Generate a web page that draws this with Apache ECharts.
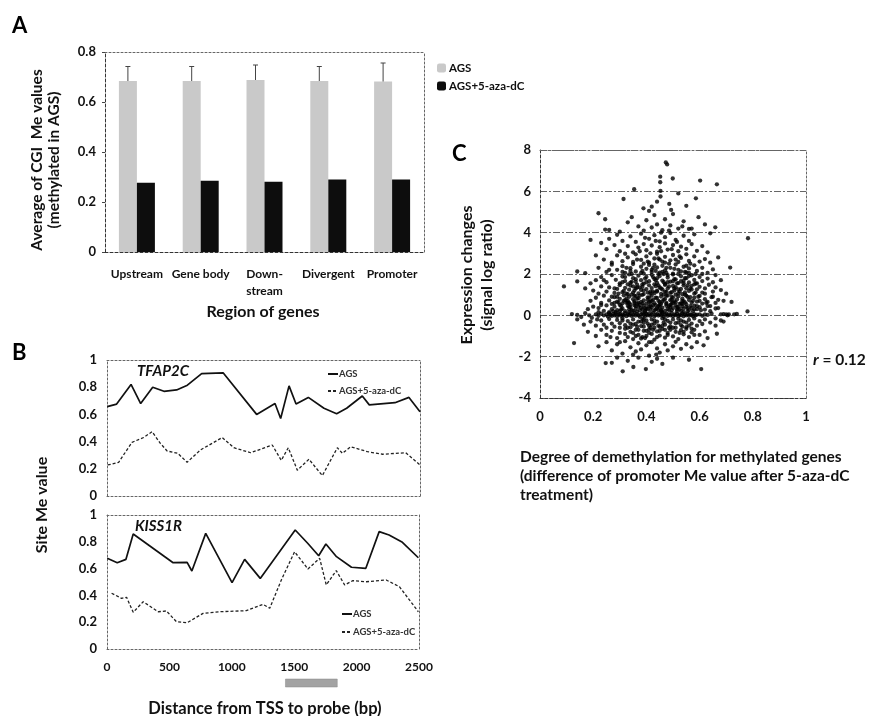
<!DOCTYPE html>
<html><head><meta charset="utf-8">
<script src="https://cdn.jsdelivr.net/npm/echarts@6/dist/echarts.min.js"></script>
<style>html,body{margin:0;padding:0;background:#fff}#c{width:870px;height:716px}</style>
</head><body><div id="c"></div>
<script>
// ---------- Panel A data ----------
const regionCategories = ['Upstream', 'Gene body', 'Down-\nstream', 'Divergent', 'Promoter'];
const agsMeans = [0.684, 0.684, 0.688, 0.684, 0.682];
const agsUpper = [0.742, 0.742, 0.748, 0.742, 0.756];
const azaMeans = [0.277, 0.285, 0.281, 0.29, 0.29];
const barTicks = [0, 0.2, 0.4, 0.6, 0.8];

// ---------- Panel B data: [distance bp, site Me value] ----------
const tfap2cAGS = [[2,0.657],[77,0.676],[192,0.82],[269,0.68],[365,0.80],[455,0.77],[556,0.78],[642,0.815],[756,0.90],[929,0.905],[1195,0.60],[1342,0.68],[1387,0.57],[1454,0.81],[1510,0.676],[1608,0.725],[1733,0.645],[1834,0.605],[1914,0.645],[2039,0.735],[2095,0.67],[2300,0.686],[2412,0.725],[2500,0.62]];
const tfap2cAza = [[6,0.228],[93,0.248],[200,0.395],[293,0.43],[360,0.473],[426,0.387],[480,0.331],[565,0.314],[640,0.248],[746,0.338],[920,0.43],[1013,0.355],[1147,0.318],[1320,0.375],[1392,0.262],[1448,0.355],[1520,0.19],[1613,0.27],[1720,0.15],[1840,0.355],[1880,0.314],[1946,0.362],[2080,0.326],[2200,0.307],[2386,0.318],[2500,0.228]];
const kiss1rAGS = [[2,0.677],[82,0.644],[152,0.669],[210,0.858],[530,0.644],[642,0.647],[680,0.582],[791,0.863],[1002,0.495],[1103,0.669],[1228,0.527],[1508,0.888],[1608,0.789],[1696,0.696],[1754,0.784],[1839,0.689],[1959,0.61],[2074,0.602],[2181,0.876],[2260,0.851],[2367,0.796],[2495,0.681]];
const kiss1rAza = [[37,0.416],[117,0.378],[157,0.386],[210,0.274],[290,0.353],[410,0.278],[476,0.284],[556,0.204],[642,0.196],[770,0.266],[903,0.278],[1116,0.286],[1250,0.333],[1304,0.304],[1397,0.515],[1503,0.726],[1610,0.597],[1704,0.677],[1757,0.478],[1837,0.585],[1904,0.478],[1970,0.51],[2077,0.502],[2237,0.515],[2343,0.465],[2495,0.278]];
const probeRegion = [[1430, 1845]];
const distanceTicks = [0, 500, 1000, 1500, 2000, 2500];

// ---------- Panel C data: [degree of demethylation, expression change] ----------
const scatterPoints = [
[0.21,0.05],[0.22,-0.02],[0.23,0.08],[0.24,0.0],[0.25,0.04],[0.255,-0.06],[0.26,0.1],[0.265,0.02],[0.27,-0.03],[0.275,0.06],[0.28,0.0],[0.285,0.09],[0.29,-0.05],[0.295,0.03],[0.30,0.07],[0.305,-0.02],[0.31,0.04],[0.315,0.0],[0.32,0.1],[0.325,-0.04],[0.33,0.05],[0.335,0.01],[0.34,0.08],[0.345,-0.03],[0.35,0.03],[0.355,0.12],[0.36,-0.01],[0.365,0.06],[0.37,0.0],[0.375,-0.07],[0.38,0.04],[0.385,0.1],[0.39,0.02],[0.395,-0.04],[0.40,0.06],[0.405,0.0],[0.41,0.09],[0.415,-0.02],[0.42,0.04],[0.425,0.13],[0.43,-0.05],[0.435,0.02],[0.44,0.07],[0.445,-0.01],[0.45,0.05],[0.455,0.0],[0.46,0.1],[0.465,-0.06],[0.47,0.03],[0.475,0.08],[0.48,-0.02],[0.485,0.04],[0.49,0.0],[0.495,0.11],[0.50,-0.04],[0.505,0.05],[0.51,0.01],[0.515,0.08],[0.52,-0.03],[0.525,0.03],[0.53,0.0],[0.535,0.09],[0.54,-0.05],[0.545,0.04],[0.55,0.0],[0.555,0.07],[0.56,-0.02],[0.565,0.05],[0.57,0.02],[0.575,-0.04],[0.58,0.06],[0.585,0.0],[0.59,0.03],[0.60,0.05],[0.61,-0.02],[0.62,0.04],
[0.12,0.06],[0.14,0.02],[0.155,-0.08],[0.17,0.1],[0.185,0.0],[0.195,-0.12],[0.63,0.02],[0.645,0.08],[0.68,0.05],[0.69,0.06],[0.70,0.05],[0.71,0.04],[0.78,0.19],
[0.22,0.35],[0.24,0.22],[0.25,0.48],[0.27,0.3],[0.28,0.42],[0.29,0.25],[0.30,0.5],[0.31,0.33],[0.32,0.2],[0.33,0.45],[0.335,0.28],[0.34,0.38],[0.35,0.22],[0.355,0.48],[0.36,0.31],[0.37,0.41],[0.375,0.24],[0.38,0.36],[0.39,0.47],[0.395,0.21],[0.40,0.33],[0.41,0.44],[0.415,0.27],[0.42,0.38],[0.43,0.23],[0.435,0.49],[0.44,0.34],[0.45,0.42],[0.455,0.26],[0.46,0.37],[0.47,0.22],[0.475,0.46],[0.48,0.31],[0.49,0.4],[0.495,0.25],[0.50,0.35],[0.51,0.48],[0.515,0.29],[0.52,0.39],[0.53,0.22],[0.535,0.44],[0.54,0.32],[0.55,0.41],[0.56,0.26],[0.57,0.36],[0.58,0.47],[0.59,0.3],[0.60,0.39],[0.62,0.28],[0.64,0.45],[0.66,0.33],[0.20,0.42],[0.18,0.3],
[0.19,0.7],[0.21,0.85],[0.23,0.6],[0.24,0.95],[0.26,0.72],[0.27,0.55],[0.28,0.88],[0.29,0.66],[0.30,0.8],[0.31,0.58],[0.315,0.97],[0.32,0.74],[0.33,0.62],[0.335,0.9],[0.34,0.53],[0.35,0.78],[0.355,0.68],[0.36,0.93],[0.365,0.57],[0.37,0.83],[0.38,0.65],[0.385,0.99],[0.39,0.72],[0.40,0.56],[0.405,0.87],[0.41,0.64],[0.42,0.95],[0.425,0.76],[0.43,0.59],[0.44,0.84],[0.445,0.7],[0.45,0.52],[0.455,0.91],[0.46,0.67],[0.47,0.79],[0.475,0.6],[0.48,0.96],[0.49,0.73],[0.495,0.55],[0.50,0.86],[0.51,0.63],[0.515,0.77],[0.52,0.92],[0.53,0.58],[0.535,0.81],[0.54,0.69],[0.55,0.54],[0.555,0.89],[0.56,0.74],[0.57,0.61],[0.58,0.85],[0.59,0.66],[0.60,0.94],[0.61,0.57],[0.62,0.78],[0.63,0.65],[0.645,0.88],[0.66,0.6],[0.67,0.75],[0.69,0.7],
[0.20,1.2],[0.22,1.05],[0.23,1.4],[0.25,1.15],[0.26,1.35],[0.28,1.08],[0.29,1.28],[0.30,1.46],[0.31,1.12],[0.32,1.33],[0.33,1.02],[0.335,1.24],[0.34,1.44],[0.35,1.1],[0.36,1.3],[0.365,1.48],[0.37,1.06],[0.38,1.22],[0.385,1.38],[0.39,1.03],[0.40,1.27],[0.41,1.45],[0.415,1.14],[0.42,1.32],[0.43,1.07],[0.435,1.41],[0.44,1.19],[0.45,1.35],[0.455,1.04],[0.46,1.25],[0.47,1.47],[0.475,1.13],[0.48,1.3],[0.49,1.09],[0.50,1.42],[0.505,1.2],[0.51,1.36],[0.52,1.06],[0.53,1.28],[0.54,1.45],[0.545,1.11],[0.55,1.31],[0.56,1.18],[0.57,1.43],[0.58,1.05],[0.59,1.26],[0.60,1.38],[0.61,1.1],[0.62,1.3],[0.635,1.48],[0.65,1.15],[0.66,1.35],[0.68,1.22],[0.70,1.05],[0.17,1.3],
[0.21,1.7],[0.23,1.85],[0.25,1.6],[0.27,1.95],[0.285,1.72],[0.30,1.55],[0.31,1.88],[0.32,1.66],[0.335,1.98],[0.34,1.58],[0.35,1.8],[0.36,1.62],[0.37,1.92],[0.38,1.7],[0.39,1.53],[0.40,1.86],[0.41,1.65],[0.42,1.96],[0.43,1.76],[0.44,1.57],[0.45,1.9],[0.46,1.68],[0.47,1.52],[0.48,1.83],[0.49,1.63],[0.50,1.97],[0.51,1.74],[0.52,1.56],[0.53,1.89],[0.54,1.67],[0.55,1.8],[0.56,1.59],[0.57,1.94],[0.58,1.71],[0.59,1.54],[0.60,1.85],[0.61,1.66],[0.63,1.78],[0.65,1.6],[0.19,1.55],[0.14,1.64],[0.09,1.4],[0.66,1.95],[0.68,1.7],[0.445,1.99],
[0.14,2.12],[0.17,2.04],[0.22,2.3],[0.25,2.1],[0.27,2.45],[0.29,2.2],[0.31,2.38],[0.32,2.05],[0.34,2.28],[0.35,2.48],[0.36,2.12],[0.38,2.35],[0.39,2.02],[0.40,2.25],[0.41,2.44],[0.42,2.1],[0.44,2.32],[0.45,2.06],[0.46,2.4],[0.47,2.18],[0.49,2.3],[0.50,2.02],[0.51,2.46],[0.52,2.2],[0.54,2.35],[0.55,2.08],[0.56,2.27],[0.58,2.42],[0.59,2.15],[0.61,2.3],[0.63,2.05],[0.65,2.22],[0.715,2.31],[0.435,2.15],[0.53,2.12],
[0.24,2.7],[0.27,2.55],[0.29,2.9],[0.31,2.62],[0.33,2.8],[0.35,2.58],[0.36,2.95],[0.38,2.68],[0.40,2.85],[0.41,2.55],[0.43,2.75],[0.44,2.98],[0.46,2.6],[0.47,2.83],[0.49,2.66],[0.50,2.92],[0.52,2.58],[0.53,2.78],[0.55,2.95],[0.56,2.63],[0.58,2.85],[0.60,2.6],[0.62,2.72],[0.21,2.9],[0.32,2.98],[0.45,2.7],[0.64,2.55],[0.67,2.8],
[0.25,3.2],[0.28,3.4],[0.30,3.1],[0.33,3.35],[0.35,3.05],[0.37,3.28],[0.39,3.45],[0.40,3.15],[0.42,3.38],[0.44,3.08],[0.45,3.3],[0.47,3.48],[0.48,3.18],[0.50,3.4],[0.52,3.1],[0.53,3.32],[0.55,3.22],[0.57,3.45],[0.59,3.12],[0.61,3.35],[0.63,3.05],[0.23,3.5],
[0.19,3.65],[0.26,3.7],[0.29,3.9],[0.31,3.6],[0.34,3.82],[0.36,3.55],[0.38,3.95],[0.41,3.7],[0.43,3.88],[0.45,3.58],[0.47,3.78],[0.49,3.98],[0.51,3.65],[0.54,3.85],[0.56,3.6],[0.58,3.92],[0.64,3.97],[0.782,3.73],
[0.245,4.15],[0.26,4.13],[0.30,4.05],[0.33,4.5],[0.345,4.75],[0.37,4.3],[0.39,4.1],[0.40,4.6],[0.42,4.25],[0.43,4.85],[0.44,4.4],[0.46,4.12],[0.47,4.65],[0.49,4.35],[0.50,4.9],[0.52,4.2],[0.54,4.55],[0.56,4.18],[0.57,4.2],[0.596,4.75],[0.62,4.4],[0.659,4.26],[0.22,4.94],[0.245,4.65],
[0.314,5.63],[0.354,6.1],[0.389,5.18],[0.42,5.26],[0.44,5.5],[0.452,6.44],[0.452,6.71],[0.453,6.02],[0.453,5.75],[0.473,7.4],[0.478,7.3],[0.486,5.39],[0.493,5.1],[0.499,6.62],[0.52,5.9],[0.55,5.3],[0.586,5.66],[0.602,6.52],[0.665,6.34],[0.41,5.05],
[0.19,-0.3],[0.21,-0.5],[0.23,-0.25],[0.24,-0.45],[0.26,-0.18],[0.27,-0.4],[0.28,-0.55],[0.29,-0.22],[0.30,-0.38],[0.31,-0.15],[0.32,-0.48],[0.33,-0.28],[0.34,-0.58],[0.35,-0.2],[0.36,-0.42],[0.37,-0.3],[0.38,-0.52],[0.385,-0.17],[0.39,-0.36],[0.40,-0.25],[0.41,-0.5],[0.42,-0.2],[0.43,-0.4],[0.44,-0.3],[0.45,-0.56],[0.46,-0.15],[0.47,-0.45],[0.48,-0.27],[0.49,-0.53],[0.50,-0.2],[0.51,-0.38],[0.52,-0.16],[0.53,-0.47],[0.54,-0.3],[0.55,-0.57],[0.56,-0.22],[0.57,-0.4],[0.58,-0.15],[0.59,-0.5],[0.60,-0.28],[0.61,-0.42],[0.62,-0.2],[0.64,-0.35],[0.66,-0.5],[0.68,-0.25],[0.14,-0.2],[0.165,-0.45],[0.415,-0.6],[0.465,-0.35],[0.535,-0.55],
[0.18,-0.8],[0.21,-1.0],[0.23,-0.7],[0.25,-0.95],[0.27,-0.75],[0.29,-1.1],[0.30,-0.85],[0.32,-0.65],[0.33,-1.05],[0.34,-0.8],[0.35,-1.15],[0.36,-0.7],[0.37,-0.95],[0.38,-1.12],[0.39,-0.75],[0.40,-1.0],[0.41,-0.68],[0.42,-0.9],[0.43,-1.18],[0.44,-0.78],[0.45,-0.98],[0.46,-0.66],[0.47,-1.08],[0.48,-0.85],[0.49,-0.7],[0.50,-1.02],[0.51,-0.8],[0.52,-1.15],[0.53,-0.72],[0.54,-0.92],[0.55,-0.65],[0.56,-1.05],[0.57,-0.82],[0.58,-0.7],[0.60,-0.95],[0.62,-0.78],[0.665,-0.89],[0.63,-1.1],[0.395,-1.1],[0.385,-1.05],
[0.128,-1.34],[0.22,-1.5],[0.25,-1.3],[0.27,-1.7],[0.29,-1.4],[0.31,-1.85],[0.32,-1.25],[0.34,-1.55],[0.35,-1.9],[0.37,-1.35],[0.38,-1.65],[0.40,-1.45],[0.41,-1.95],[0.42,-1.3],[0.44,-1.6],[0.45,-1.8],[0.47,-1.4],[0.48,-1.7],[0.50,-1.5],[0.51,-1.28],[0.53,-1.62],[0.437,-1.9],[0.55,-1.4],[0.57,-1.55],[0.59,-1.3],[0.615,-1.45],[0.30,-1.3],[0.36,-1.75],
[0.247,-2.31],[0.27,-2.3],[0.311,-2.71],[0.33,-2.2],[0.351,-2.5],[0.37,-2.05],[0.398,-2.6],[0.42,-2.25],[0.44,-2.1],[0.46,-2.35],[0.50,-2.05],[0.606,-2.6],[0.56,-2.15],[0.29,-2.05],
[0.285,0.15],[0.295,0.62],[0.305,0.28],[0.315,1.18],[0.325,0.82],[0.335,0.42],[0.345,1.62],[0.355,0.95],[0.365,0.18],[0.375,1.35],[0.385,0.58],[0.395,1.78],[0.405,0.3],[0.415,1.05],[0.425,0.5],[0.435,1.7],[0.445,0.25],[0.455,1.3],[0.465,0.75],[0.475,2.05],[0.485,0.45],[0.495,1.12],[0.505,0.68],[0.515,1.55],[0.525,0.3],[0.535,1.02],[0.545,0.62],[0.555,1.45],[0.565,0.88],[0.575,0.2],
[0.29,0.9],[0.31,1.6],[0.33,0.7],[0.35,1.4],[0.37,0.6],[0.39,1.2],[0.41,0.85],[0.43,1.5],[0.45,0.65],[0.47,1.15],[0.49,0.5],[0.51,1.0],[0.53,1.65],[0.55,0.95],[0.57,1.25],[0.59,0.45],
[0.30,-0.6],[0.32,-0.9],[0.34,-0.4],[0.36,-1.0],[0.38,-0.3],[0.40,-0.75],[0.42,-0.45],[0.44,-1.05],[0.46,-0.5],[0.48,-0.95],[0.50,-0.6],[0.52,-0.35],[0.54,-0.8],[0.56,-0.5],[0.58,-0.95],[0.41,-1.3],[0.43,-0.6],[0.47,-0.7],[0.39,-0.55],[0.35,-0.85],
[0.325,2.3],[0.345,2.0],[0.365,2.7],[0.385,2.15],[0.405,2.6],[0.425,2.3],[0.445,2.75],[0.465,2.0],[0.485,2.5],[0.505,2.25],[0.525,2.85],[0.545,2.1],[0.565,2.5],[0.585,2.0],[0.455,3.1],[0.475,2.3],[0.495,3.2],[0.415,3.0],[0.375,3.1],[0.515,3.55],[0.435,3.6],[0.485,4.1],[0.455,4.0],[0.535,4.3],[0.395,3.75],
[0.26,0.15],[0.28,0.6],[0.30,0.2],[0.33,1.5],[0.36,0.45],[0.42,0.7],[0.44,1.15],[0.46,0.15],[0.48,1.6],[0.50,0.6],[0.52,1.25],[0.54,0.15],[0.56,1.9],[0.58,0.3],[0.60,0.7],[0.62,1.05],[0.64,0.2],[0.61,2.0],[0.63,0.45],[0.65,0.9],
[0.24,1.7],[0.26,2.2],[0.28,1.3],[0.23,0.5],[0.25,-0.6],[0.27,0.9],[0.265,-1.05],[0.22,0.15],[0.215,-0.2],[0.66,-0.15],[0.67,0.35],[0.69,-0.3],[0.72,0.65],[0.73,0.05],[0.74,0.07],[0.705,0.0],
[0.305,0.45],[0.315,0.7],[0.325,1.05],[0.335,0.6],[0.345,0.25],[0.355,1.2],[0.365,0.8],[0.375,0.5],[0.385,1.5],[0.395,0.35],[0.405,1.1],[0.415,0.65],[0.425,1.85],[0.435,0.3],[0.445,1.45],[0.455,0.55],[0.465,1.6],[0.475,0.95],[0.485,1.4],[0.495,0.75],[0.505,1.75],[0.515,0.4],[0.525,1.15],[0.535,0.55],[0.545,1.8],[0.555,0.35],[0.565,1.3],[0.575,0.7],[0.585,1.55],[0.595,0.9],
[0.31,-0.25],[0.33,-0.6],[0.35,-0.45],[0.37,-0.7],[0.39,-0.2],[0.41,-0.85],[0.43,-0.25],[0.45,-0.75],[0.47,-0.2],[0.49,-0.35],[0.51,-0.6],[0.53,-0.25],[0.55,-0.35],[0.57,-0.65],[0.405,-0.4],[0.445,-0.5],[0.485,-0.6],[0.525,-0.85],[0.365,-0.55],[0.425,-0.7],
[0.32,1.85],[0.34,2.15],[0.36,1.75],[0.38,2.05],[0.40,1.6],[0.42,2.2],[0.44,1.8],[0.46,2.1],[0.48,1.95],[0.50,1.65],[0.52,2.0],[0.54,1.55],[0.56,2.05],[0.58,1.5],[0.31,2.1],[0.43,2.45],[0.47,2.55],[0.51,2.7],[0.39,2.5],[0.55,2.4],
[0.335,0.15],[0.355,0.6],[0.375,0.95],[0.395,0.15],[0.415,0.45],[0.435,0.85],[0.455,0.2],[0.475,0.55],[0.495,0.9],[0.515,0.2],[0.535,0.7],[0.555,0.2],[0.325,0.6],[0.345,1.0],[0.365,1.35],[0.385,0.3],[0.405,0.75],[0.425,1.15],[0.445,0.45],[0.465,1.0],[0.485,0.25],[0.505,1.3],[0.525,0.55],[0.545,1.0],[0.565,0.45],[0.585,1.1],[0.605,0.25],[0.625,0.6],[0.295,1.05],[0.275,0.2]
];
const demethTicks = [0, 0.2, 0.4, 0.6, 0.8, 1];
const expressionTicks = [-4, -2, 0, 2, 4, 6, 8];

// ---------- rendering ----------
const FONT = 'Lato, "Open Sans", sans-serif';
const lbl = (size) => ({ fontFamily: FONT, fontWeight: 'bold', fontSize: size, color: '#111' });
const frameLine = { show: true, onZero: false, lineStyle: { color: '#666', width: 1, type: [2, 2] } };
const frameAxis = (grid, pos) => ({
  gridIndex: grid, type: 'value', position: pos, min: 0, max: 1,
  axisLine: frameLine, axisTick: { show: false }, axisLabel: { show: false }, splitLine: { show: false }
});
const axisDark = { show: true, onZero: false, lineStyle: { color: '#333', width: 1, type: [3, 2] } };
const plain = v => String(v);

const chart = echarts.init(document.getElementById('c'), null, { renderer: 'canvas' });
chart.setOption({
  animation: false,
  backgroundColor: '#fff',
  grid: [
    { left: 105, top: 52, width: 319, height: 200 },
    { left: 107, top: 360, width: 313, height: 136 },
    { left: 107, top: 515, width: 312, height: 134 },
    { left: 107, top: 679, width: 312, height: 8 },
    { left: 540, top: 150, width: 266, height: 248 }
  ],
  xAxis: [
    { gridIndex: 0, type: 'category', data: regionCategories, axisLine: axisDark, axisTick: { show: false },
      axisLabel: Object.assign(lbl(12), { margin: 14, lineHeight: 17, interval: 0 }) },
    frameAxis(0, 'top'),
    { gridIndex: 1, type: 'value', min: 0, max: 2500, interval: 500, axisLine: frameLine, axisTick: { show: false },
      axisLabel: { show: false }, splitLine: { show: false } },
    frameAxis(1, 'top'),
    { gridIndex: 2, type: 'value', min: distanceTicks[0], max: distanceTicks[distanceTicks.length - 1], interval: 500,
      axisLine: frameLine, axisTick: { show: false }, axisLabel: Object.assign(lbl(12), { margin: 12, formatter: plain }), splitLine: { show: false } },
    frameAxis(2, 'top'),
    { gridIndex: 3, type: 'value', min: 0, max: 2500, show: false },
    { gridIndex: 4, type: 'value', min: demethTicks[0], max: demethTicks[demethTicks.length - 1], interval: 0.2,
      axisLine: axisDark, axisTick: { show: false }, axisLabel: Object.assign(lbl(13), { margin: 12, formatter: plain }), splitLine: { show: false } },
    frameAxis(4, 'top')
  ],
  yAxis: [
    { gridIndex: 0, type: 'value', min: barTicks[0], max: barTicks[barTicks.length - 1], interval: 0.2,
      axisLine: axisDark, axisTick: { show: true, length: 3, lineStyle: { color: '#444' } },
      axisLabel: Object.assign(lbl(13), { margin: 9, formatter: plain }), splitLine: { show: false } },
    frameAxis(0, 'right'),
    { gridIndex: 1, type: 'value', min: 0, max: 1, interval: 0.2, axisLine: frameLine, axisTick: { show: false },
      axisLabel: Object.assign(lbl(13), { margin: 10, formatter: plain }), splitLine: { show: false } },
    frameAxis(1, 'right'),
    { gridIndex: 2, type: 'value', min: 0, max: 1, interval: 0.2, axisLine: frameLine, axisTick: { show: false },
      axisLabel: Object.assign(lbl(13), { margin: 10, formatter: plain }), splitLine: { show: false } },
    frameAxis(2, 'right'),
    { gridIndex: 3, type: 'value', min: 0, max: 1, show: false },
    { gridIndex: 4, type: 'value', min: expressionTicks[0], max: expressionTicks[expressionTicks.length - 1], interval: 2,
      axisLine: axisDark, axisTick: { show: false }, axisLabel: Object.assign(lbl(13), { margin: 9, formatter: plain }),
      splitLine: { show: true, lineStyle: { color: '#666', width: 1, type: [7, 2, 2, 2] } } },
    frameAxis(4, 'right')
  ],
  legend: [
    { left: 432, top: 57, orient: 'vertical', itemWidth: 9, itemHeight: 9, itemGap: 6,
      data: ['AGS', 'AGS+5-aza-dC'], textStyle: Object.assign(lbl(11.5), { padding: [0, 0, 0, -2] }) },
    { left: 322, top: 364, orient: 'vertical', itemWidth: 10, itemHeight: 6, itemGap: 7,
      itemStyle: { color: 'transparent', borderColor: 'transparent', borderWidth: 0 },
      data: ['B-AGS', 'B-AGS+5-aza-dC'], formatter: n => n.slice(2), textStyle: Object.assign(lbl(9.5), { color: '#333', padding: [0, 0, 0, -4] }) },
    { left: 336, top: 604, orient: 'vertical', itemWidth: 10, itemHeight: 6, itemGap: 8,
      itemStyle: { color: 'transparent', borderColor: 'transparent', borderWidth: 0 },
      data: ['B-AGS', 'B-AGS+5-aza-dC'], formatter: n => n.slice(2), textStyle: Object.assign(lbl(9.5), { color: '#333', padding: [0, 0, 0, -4] }) }
  ],
  series: [
    { name: 'AGS', type: 'bar', xAxisIndex: 0, yAxisIndex: 0, data: agsMeans, barWidth: 18, barGap: '0%',
      itemStyle: { color: '#c9c9c9' } },
    { name: 'AGS+5-aza-dC', type: 'bar', xAxisIndex: 0, yAxisIndex: 0, data: azaMeans, barWidth: 18, barGap: '0%',
      itemStyle: { color: '#0d0d0d' } },
    { name: 'errA', type: 'custom', xAxisIndex: 0, yAxisIndex: 0,
      data: agsMeans.map((v, i) => [i, agsUpper[i], v]),
      renderItem: function (params, api) {
        const b = api.coord([api.value(0), api.value(2)]);
        const t = api.coord([api.value(0), api.value(1)]);
        const off = -9;
        const st = { stroke: '#444', lineWidth: 1 };
        return { type: 'group', children: [
          { type: 'line', shape: { x1: b[0] + off, y1: b[1], x2: t[0] + off, y2: t[1] }, style: st },
          { type: 'line', shape: { x1: t[0] + off - 2.5, y1: t[1], x2: t[0] + off + 2.5, y2: t[1] }, style: st }
        ] };
      }, z: 5 },
    { name: 'B-AGS', type: 'line', xAxisIndex: 2, yAxisIndex: 2, data: tfap2cAGS, symbol: 'none',
      lineStyle: { color: '#111', width: 1.7 }, itemStyle: { color: '#111' } },
    { name: 'B-AGS+5-aza-dC', type: 'line', xAxisIndex: 2, yAxisIndex: 2, data: tfap2cAza, symbol: 'none',
      lineStyle: { color: '#222', width: 1.3, type: [3, 2] }, itemStyle: { color: '#222' } },
    { name: 'B-AGS', type: 'line', xAxisIndex: 4, yAxisIndex: 4, data: kiss1rAGS, symbol: 'none',
      lineStyle: { color: '#111', width: 1.7 }, itemStyle: { color: '#111' } },
    { name: 'B-AGS+5-aza-dC', type: 'line', xAxisIndex: 4, yAxisIndex: 4, data: kiss1rAza, symbol: 'none',
      lineStyle: { color: '#222', width: 1.3, type: [3, 2] }, itemStyle: { color: '#222' } },
    { name: 'probe', type: 'custom', xAxisIndex: 6, yAxisIndex: 6, data: probeRegion,
      renderItem: function (params, api) {
        const p0 = api.coord([api.value(0), 1]);
        const p1 = api.coord([api.value(1), 0]);
        return { type: 'rect', shape: { x: p0[0], y: p0[1], width: p1[0] - p0[0], height: p1[1] - p0[1] },
          style: { fill: '#a3a3a3', stroke: '#888', lineWidth: 0.5 } };
      } },
    { name: 'scatterC', type: 'scatter', xAxisIndex: 7, yAxisIndex: 7, data: scatterPoints, symbolSize: 4.3,
      itemStyle: { color: '#000' } }
  ],
  graphic: [
    { type: 'text', left: 12, top: 15, style: { text: 'A', font: 'bold 22px ' + FONT, fill: '#000' } },
    { type: 'text', left: 12, top: 342, style: { text: 'B', font: 'bold 22px ' + FONT, fill: '#000' } },
    { type: 'text', left: 452, top: 143, style: { text: 'C', font: 'bold 22px ' + FONT, fill: '#000' } },
    { type: 'text', x: 45, y: 160, rotation: Math.PI / 2,
      style: { text: 'Average of CGI  Me values\n(methylated in AGS)', font: 'bold 15.5px ' + FONT, lineHeight: 17,
        textAlign: 'center', textVerticalAlign: 'middle', fill: '#111' } },
    { type: 'text', x: 263, y: 312, style: { text: 'Region of genes', font: 'bold 16px ' + FONT,
        textAlign: 'center', textVerticalAlign: 'middle', fill: '#111' } },
    { type: 'text', x: 42, y: 505, rotation: Math.PI / 2,
      style: { text: 'Site Me value', font: 'bold 16px ' + FONT, textAlign: 'center', textVerticalAlign: 'middle', fill: '#111' } },
    { type: 'text', x: 137, y: 371, style: { text: 'TFAP2C', font: 'italic bold 15px ' + FONT,
        textVerticalAlign: 'middle', fill: '#111' } },
    { type: 'text', x: 135, y: 526, style: { text: 'KISS1R', font: 'italic bold 15px ' + FONT,
        textVerticalAlign: 'middle', fill: '#111' } },
    { type: 'text', x: 265, y: 709, style: { text: 'Distance from TSS to probe (bp)', font: 'bold 16.5px ' + FONT,
        textAlign: 'center', textVerticalAlign: 'middle', fill: '#111' } },
    { type: 'text', x: 477, y: 275, rotation: Math.PI / 2,
      style: { text: 'Expression changes\n(signal log ratio)', font: 'bold 16px ' + FONT, lineHeight: 20,
        textAlign: 'center', textVerticalAlign: 'middle', fill: '#111' } },
    { type: 'text', x: 520, y: 447, style: { text: 'Degree of demethylation for methylated genes\n(difference of promoter Me value after 5-aza-dC\ntreatment)',
        font: 'bold 15.5px ' + FONT, lineHeight: 19, textAlign: 'left', textVerticalAlign: 'top', fill: '#111' } },
    { type: 'text', x: 813, y: 360, style: { text: '{i|r} = 0.12', textVerticalAlign: 'middle',
        rich: { i: { font: 'italic bold 16px ' + FONT, fill: '#111' } }, font: 'bold 15.5px ' + FONT, fill: '#111' } }
  ]
});
</script>
</body></html>
